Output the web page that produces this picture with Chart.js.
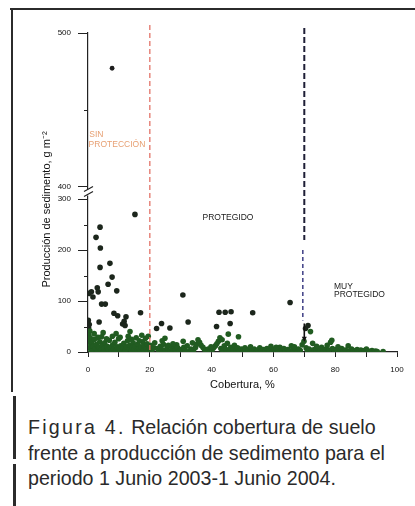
<!DOCTYPE html>
<html lang="es">
<head>
<meta charset="utf-8">
<title>Cobertura frente a producción de sedimento</title>
<script src="https://cdn.jsdelivr.net/npm/chart.js@4.4.1/dist/chart.umd.min.js"></script>
<style>
  html, body { margin: 0; padding: 0; background: #fff; }
  body { width: 415px; height: 506px; position: relative; overflow: hidden; }
  #grafico { position: absolute; left: 0; top: 0; }
  .marco { position: absolute; background: #2b2b2b; }
  .pie {
    position: absolute; left: 28px; top: 414px; margin: 0;
    font-family: "Liberation Sans", Arial, sans-serif;
    font-size: 21px; line-height: 25.5px; color: #2a2a2a; white-space: nowrap;
    transform: scaleX(0.935); transform-origin: 0 0;
  }
  .pie p { margin: 0; }
  .pie .fig { letter-spacing: 2.4px; }
</style>
</head>
<body>
<div class="marco" style="left:10px; top:8px; width:405px; height:2px;"></div>
<div class="marco" style="left:11px; top:8px; width:2px; height:384px;"></div>
<div class="marco" style="left:13px; top:396px; width:3px; height:63px;"></div>
<div class="marco" style="left:13px; top:464px; width:3px; height:42px;"></div>

<canvas id="grafico" width="415" height="400"></canvas>

<div class="pie">
  <p><span class="fig">Figura 4.</span> Relación cobertura de suelo</p>
  <p>frente a producción de sedimento para el</p>
  <p>periodo 1 Junio 2003-1 Junio 2004.</p>
</div>

<script>
// Cobertura (%) y producción de sedimento (g m-2) de cada parcela
const cobertura = [
  // valores altos
  15.2, 3.9, 2.6, 4.0, 7.1, 3.9, 7.8, 6.5, 9.3, 3.0,
  3.3, 0.3, 1.1, 1.6, 4.4, 5.6, 30.7, 65.4, 8.4, 17.0,
  9.6, 12.3, 11.7, 11.2, 42.4, 44.4, 46.3, 53.3, 32.4, 41.6,
  46.0, 23.8, 22.2, 26.5, 3.6, 45.4, 42.7, 48.7, 30.8, 24.9,
  70.4, 71.2, 72.0, 78.9, 84.2, 95.5, 4.9, 4.4, 10.4, 13.6,
  13.0, 17.4, 12.0, 0.1, 0.4, 0.2, 0.6, 35.6, 28.7,
  // sin protección (0-20 %)
  0.3, 0.8, 0.2, 0.9, 0.5, 1.4, 1.2, 1.7, 2.1, 2.3,
  2.8, 3.1, 3.5, 3.8, 4.2, 4.6, 5.1, 5.4, 5.9, 6.2,
  6.6, 6.9, 7.3, 7.5, 8.0, 8.3, 8.7, 9.0, 9.4, 9.9,
  10.1, 10.6, 10.8, 11.3, 11.6, 12.1, 12.5, 12.8, 13.2, 13.5,
  14.0, 14.3, 14.6, 14.9, 15.3, 15.8, 16.1, 16.4, 16.8, 17.2,
  17.7, 18.0, 18.3, 18.8, 19.1, 19.4, 19.8, 18.6, 15.6, 7.9,
  2.0, 6.0, 9.1, 19.5, 1.0, 5.0, 11.9, 16.6, 3.2, 14.1,
  // protegido (20-50 %)
  20.2, 20.7, 21.3, 21.6, 22.5, 22.9, 23.4, 23.9, 24.4, 25.1,
  25.6, 26.0, 26.7, 27.2, 27.9, 28.3, 29.0, 29.6, 30.1, 31.0,
  31.5, 32.1, 32.9, 33.3, 34.1, 34.8, 35.2, 36.1, 36.6, 37.2,
  37.7, 38.3, 38.9, 39.4, 40.1, 40.6, 41.2, 41.7, 42.2, 43.0,
  43.6, 44.1, 44.7, 45.1, 45.7, 46.2, 46.9, 47.4, 47.9, 48.4,
  49.0, 49.6, 24.0, 27.5, 33.8, 39.8, 43.4,
  // protegido y muy protegido (50-95 %)
  50.2, 50.8, 51.3, 51.9, 52.6, 53.1, 53.8, 54.4, 54.9, 55.6,
  56.1, 56.8, 57.3, 57.9, 58.6, 59.2, 59.8, 60.3, 61.0, 61.6,
  62.1, 62.8, 63.4, 63.9, 64.6, 65.2, 65.8, 66.3, 67.0, 67.6,
  68.1, 68.7, 69.3, 69.9, 70.6, 71.0, 71.6, 72.4, 72.7, 73.2,
  73.8, 74.4, 75.0, 75.6, 76.2, 76.7, 77.4, 77.9, 78.5, 79.1,
  79.7, 80.3, 80.9, 81.5, 82.1, 82.7, 83.3, 84.7, 85.3, 85.9,
  86.5, 87.1, 87.7, 88.3, 88.9, 89.5, 90.1, 90.7, 91.3, 91.9,
  92.5, 93.1, 93.6, 74.0, 60.9, 66.8
];
const sedimento = [
  270, 245, 225, 204, 174, 166, 147, 133, 120, 126,
  118, 115, 118, 108, 94, 94, 112, 97, 76, 77,
  71, 69, 60, 55, 78, 78, 79, 77, 59, 50,
  56, 56, 46, 47, 59, 35, 28, 30, 21, 27,
  46, 52, 40, 23, 12, 1, 38, 30, 29, 40,
  31, 33, 52, 62, 54, 47, 41, 24, 14,
  33, 27, 21, 14, 8, 3, 19, 11, 25, 6,
  15, 2, 9, 20, 4, 13, 7, 18, 2, 11,
  5, 23, 9, 1, 14, 6, 19, 3, 10, 26,
  5, 12, 1, 8, 17, 4, 10, 22, 6, 13,
  2, 9, 18, 5, 11, 3, 15, 7, 1, 10,
  20, 4, 12, 6, 16, 2, 9, 27, 28, 31,
  36, 26, 36, 31, 1, 0, 0, 22, 29, 25,
  13, 4, 8, 18, 7, 2, 11, 5, 15, 3,
  9, 13, 2, 7, 11, 4, 8, 2, 5, 9,
  3, 12, 1, 6, 3, 9, 15, 19, 13, 9,
  5, 2, 6, 1, 4, 8, 12, 16, 21, 7,
  3, 12, 5, 17, 2, 9, 4, 13, 3, 8,
  2, 6, 22, 16, 18, 10, 24,
  3, 8, 1, 5, 10, 2, 6, 1, 4, 8,
  2, 5, 1, 7, 3, 11, 2, 6, 1, 4,
  9, 3, 7, 1, 5, 2, 12, 4, 7, 1,
  6, 3, 14, 21, 8, 3, 6, 2, 17, 5,
  1, 6, 2, 9, 3, 5, 13, 4, 19, 7,
  2, 5, 10, 3, 7, 1, 4, 2, 6, 3,
  1, 5, 2, 4, 1, 3, 6, 2, 1, 3,
  1, 2, 1, 11, 9, 10
];

// Parcela por encima del corte del eje
const coberturaExtrema = [7.8];
const sedimentoExtremo = [477];

// Límites de cobertura entre zonas
const limites = [20, 70];
const zonas = [['SIN', 'PROTECCIÓN'], ['PROTEGIDO'], ['MUY', 'PROTEGIDO']];

// Marcas de los ejes
const ticksX = [0, 20, 40, 60, 80, 100];
const ticksXMenores = [10, 30, 50, 70, 90];
const ticksYBajo = [0, 100, 200, 300];
const ticksYBajoMenores = [50, 150, 250];
const ticksYAlto = [400, 500];
const ticksYAltoMenores = [450];

const puntos = cobertura.map((c, i) => ({ x: c, y: sedimento[i] }));
const puntosExtremos = coberturaExtrema.map((c, i) => ({ x: c, y: sedimentoExtremo[i] }));

const fuenteEje = { family: 'Liberation Sans, Arial, sans-serif', size: 8 };

// Ejes, líneas de zona y rótulos que Chart.js no dibuja
const decoracion = {
  id: 'decoracion',
  afterDatasetsDraw(chart) {
    const { ctx, chartArea, scales } = chart;
    const x = scales.x, y = scales.y, yAlto = scales.yAlto;
    const izq = chartArea.left;
    ctx.save();

    // marcas menores del eje Y
    ctx.strokeStyle = '#222';
    ctx.lineWidth = 1;
    ticksYBajoMenores.forEach(v => {
      const py = Math.round(y.getPixelForValue(v)) + 0.5;
      ctx.beginPath(); ctx.moveTo(izq - 4, py); ctx.lineTo(izq, py); ctx.stroke();
    });
    ticksYAltoMenores.forEach(v => {
      const py = Math.round(yAlto.getPixelForValue(v)) + 0.5;
      ctx.beginPath(); ctx.moveTo(izq - 4, py); ctx.lineTo(izq, py); ctx.stroke();
    });

    // corte del eje entre 300 y 400
    const corte = y.top;
    ctx.fillStyle = '#fff';
    ctx.fillRect(izq - 3, corte - 3, 6, 6);
    ctx.lineWidth = 1.2;
    ctx.beginPath();
    ctx.moveTo(izq - 4, corte - 1); ctx.lineTo(izq + 5, corte - 6);
    ctx.moveTo(izq - 4, corte + 4); ctx.lineTo(izq + 5, corte - 1);
    ctx.stroke();

    // línea de 20 % (sin protección)
    const x20 = x.getPixelForValue(limites[0]);
    ctx.strokeStyle = 'rgba(226, 112, 100, 0.85)';
    ctx.lineWidth = 1.5;
    ctx.setLineDash([5, 3]);
    ctx.beginPath(); ctx.moveTo(x20, chartArea.top - 8); ctx.lineTo(x20, chartArea.bottom); ctx.stroke();

    // línea de 70 % (muy protegido)
    const x70 = x.getPixelForValue(limites[1]);
    ctx.strokeStyle = '#1e1e36';
    ctx.lineWidth = 2;
    ctx.setLineDash([6, 3]);
    ctx.beginPath(); ctx.moveTo(x70, chartArea.top - 5); ctx.lineTo(x70, y.getPixelForValue(220)); ctx.stroke();
    ctx.strokeStyle = '#4a4a8c';
    ctx.lineWidth = 1.6;
    ctx.setLineDash([4, 3]);
    ctx.beginPath(); ctx.moveTo(x70 - 1.5, y.getPixelForValue(200)); ctx.lineTo(x70 - 1.5, y.getPixelForValue(62)); ctx.stroke();

    // flecha hacia la base
    ctx.setLineDash([]);
    ctx.strokeStyle = '#111';
    ctx.fillStyle = '#111';
    ctx.lineWidth = 1.6;
    const ya = y.getPixelForValue(56), yb = y.getPixelForValue(22);
    ctx.beginPath(); ctx.moveTo(x70, ya); ctx.lineTo(x70, yb - 3); ctx.stroke();
    ctx.beginPath(); ctx.moveTo(x70 - 2.5, yb - 4); ctx.lineTo(x70 + 2.5, yb - 4); ctx.lineTo(x70, yb + 1); ctx.closePath(); ctx.fill();

    // rótulos de zona
    ctx.font = '8.5px Liberation Sans, Arial, sans-serif';
    ctx.textBaseline = 'middle';
    ctx.textAlign = 'left';
    ctx.fillStyle = 'rgba(228, 150, 100, 0.9)';
    ctx.fillText(zonas[0][0], x.getPixelForValue(0.4), yAlto.getPixelForValue(434));
    ctx.fillText(zonas[0][1], x.getPixelForValue(0.2), yAlto.getPixelForValue(427.5));
    ctx.fillStyle = '#1a1a1a';
    ctx.textAlign = 'center';
    ctx.fillText(zonas[1][0], x.getPixelForValue(45.3), y.getPixelForValue(263));
    ctx.textAlign = 'left';
    ctx.fillText(zonas[2][0], x.getPixelForValue(79.6), y.getPixelForValue(129));
    ctx.fillText(zonas[2][1], x.getPixelForValue(79.6), y.getPixelForValue(112));

    // título del eje Y
    ctx.translate(izq - 41, (chartArea.top + chartArea.bottom) / 2 + 17);
    ctx.rotate(-Math.PI / 2);
    ctx.textAlign = 'center';
    ctx.fillStyle = '#111';
    ctx.font = '11px Liberation Sans, Arial, sans-serif';
    ctx.fillText('Producción de sedimento, g m⁻²', 0, 0);
    ctx.restore();
  }
};

const ejeY = (min, max, mayores, peso) => ({
  type: 'linear',
  position: 'left',
  stack: 'sedimento',
  stackWeight: peso,
  min: min,
  max: max,
  afterBuildTicks: s => { s.ticks = mayores.map(v => ({ value: v })); },
  afterFit: s => { s.width = 88; },
  ticks: { font: fuenteEje, color: '#111', padding: 7 },
  grid: { drawOnChartArea: false, tickLength: 10, tickColor: '#222' },
  border: { color: '#222', width: 1.2 }
});

new Chart(document.getElementById('grafico'), {
  type: 'scatter',
  data: {
    datasets: [
      {
        label: 'Parcelas',
        data: puntos,
        yAxisID: 'y',
        pointRadius: 2.8,
        borderWidth: 0,
        backgroundColor: c => (c.raw && c.raw.y >= 45) ? '#1c261c' : '#215c21'
      },
      {
        label: 'Parcela extrema',
        data: puntosExtremos,
        yAxisID: 'yAlto',
        pointRadius: 2.4,
        borderWidth: 0,
        backgroundColor: '#1e1e1e'
      }
    ]
  },
  options: {
    responsive: false,
    animation: false,
    layout: { padding: { top: 33, right: 18, bottom: 0, left: 0 } },
    plugins: { legend: { display: false }, tooltip: { enabled: false } },
    scales: {
      // el primer eje de la pila queda abajo
      y: ejeY(0, 313, ticksYBajo, 1),
      yAlto: ejeY(396, 500, ticksYAlto, 1),
      x: {
        type: 'linear',
        min: 0,
        max: 100,
        afterBuildTicks: s => {
          s.ticks = ticksX.concat(ticksXMenores).sort((a, b) => a - b).map(v => ({ value: v }));
        },
        afterFit: s => { s.height = 48; },
        ticks: {
          font: fuenteEje, color: '#111', padding: 8, maxRotation: 0, autoSkip: false,
          callback: v => ticksX.includes(v) ? v : ''
        },
        grid: { drawOnChartArea: false, tickLength: 5, tickColor: '#222' },
        border: { color: '#222', width: 1.2 },
        title: {
          display: true,
          text: 'Cobertura, %',
          color: '#111',
          font: { family: 'Liberation Sans, Arial, sans-serif', size: 11 },
          padding: { top: 2, bottom: 8 }
        }
      }
    }
  },
  plugins: [decoracion]
});
</script>
</body>
</html>
